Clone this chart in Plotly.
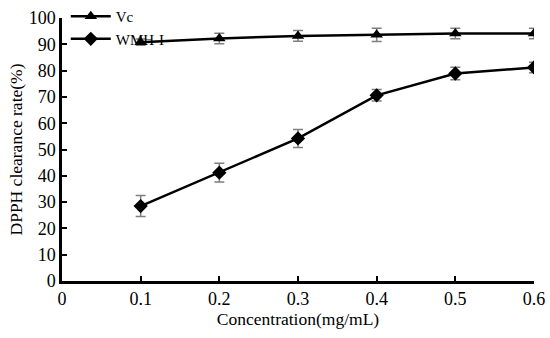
import plotly.graph_objects as go

conc = [0.1, 0.2, 0.3, 0.4, 0.5, 0.6]
vc = [90.8, 92.2, 93.2, 93.6, 94.1, 94.1]
vc_err = [1.2, 2.0, 2.0, 2.5, 2.0, 2.0]
wmh = [28.5, 41.2, 54.2, 70.6, 78.9, 81.2]
wmh_err = [4.0, 3.6, 3.4, 2.2, 2.4, 2.0]
x_ticks = [0, 0.1, 0.2, 0.3, 0.4, 0.5, 0.6]
x_ticklabels = ["0", "0.1", "0.2", "0.3", "0.4", "0.5", "0.6"]
y_ticks = list(range(0, 101, 10))

FONT = "Liberation Serif, Times New Roman, serif"
err_style = dict(type="data", visible=True, color="#7f7f7f", thickness=1.5, width=5)

fig = go.Figure()
fig.add_trace(go.Scatter(
    x=conc, y=vc, name="Vc", mode="lines+markers",
    line=dict(color="black", width=2.5),
    marker=dict(symbol="triangle-up", size=11, color="black"),
    error_y=dict(array=vc_err, **err_style),
))
fig.add_trace(go.Scatter(
    x=conc, y=wmh, name="WMH-I", mode="lines+markers",
    line=dict(color="black", width=2.5),
    marker=dict(symbol="diamond", size=11, color="black"),
    error_y=dict(array=wmh_err, **err_style),
))

fig.update_layout(
    width=550, height=338,
    margin=dict(l=62, r=16, t=18, b=57, autoexpand=False),
    paper_bgcolor="white", plot_bgcolor="white",
    font=dict(family=FONT, size=17, color="black"),
    showlegend=True,
    legend=dict(x=0.008, y=1.068, xanchor="left", yanchor="top",
                bgcolor="rgba(0,0,0,0)", font=dict(family=FONT, size=15),
                tracegroupgap=0, itemwidth=40),
    xaxis=dict(range=[0, 0.6], tickvals=x_ticks, ticktext=x_ticklabels,
               showgrid=False, zeroline=False, showline=True,
               linecolor="black", linewidth=2.5, ticks="inside",
               ticklen=5, tickwidth=2, tickcolor="black", automargin=False,
               tickfont=dict(size=18),
               title=dict(text="Concentration(mg/mL)", font=dict(size=17.5), standoff=4)),
    yaxis=dict(range=[0, 100], tickvals=y_ticks,
               showgrid=False, zeroline=False, showline=True,
               linecolor="black", linewidth=2.5, ticks="inside",
               ticklen=5, tickwidth=2, tickcolor="black", automargin=False,
               tickfont=dict(size=18),
               title=dict(text="DPPH clearance rate(%)", font=dict(size=17.5), standoff=2)),
)

fig.write_html("out.html", config={"displayModeBar": False},
               post_script="document.body.style.margin='0';document.body.style.overflow='hidden';")
